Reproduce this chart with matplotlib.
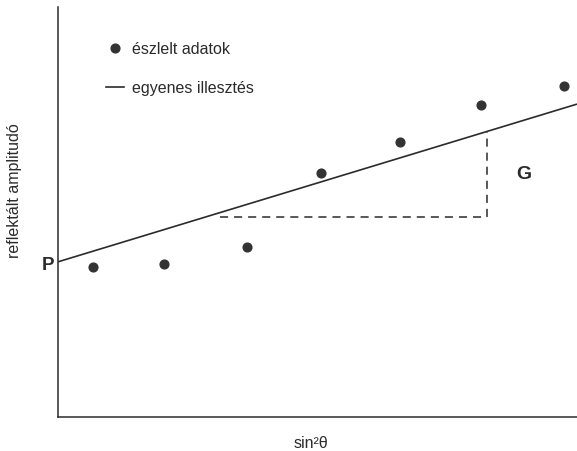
import matplotlib
matplotlib.use("Agg")
import matplotlib.pyplot as plt
from matplotlib.lines import Line2D

plt.rcParams['font.family'] = ['Liberation Sans', 'DejaVu Sans']

# observed data (sin^2 theta, reflected amplitude), arbitrary units
obs_x = [0.068, 0.204, 0.364, 0.507, 0.659, 0.815, 0.974]
obs_y = [0.365, 0.373, 0.414, 0.595, 0.671, 0.761, 0.807]

# straight-line fit endpoints
fit_x = [0.0, 1.0]
fit_y = [0.378, 0.763]

# gradient construction (dashed)
grad_x = [0.312, 0.826, 0.826]
grad_y = [0.487, 0.487, 0.696]

legend_labels = ["észlelt adatok", "egyenes illesztés"]
xlabel = "sin²θ"
ylabel = "reflektált amplitudó"

ink = "#2b2b2b"

fig = plt.figure(figsize=(5.77, 4.51), dpi=100)
ax = fig.add_axes([58/577, 34.3/451, 519/577, 409.7/451])
ax.set_xlim(0, 1)
ax.set_ylim(0, 1)

ax.plot(fit_x, fit_y, color=ink, lw=1.2, solid_capstyle='butt')
ax.plot(obs_x, obs_y, 'o', color="#333333", ms=6.3, mec="#333333")
dl, = ax.plot(grad_x, grad_y, color=ink, lw=1.1)
dl.set_dashes((5.3, 3.9))

ax.text(-0.008, 0.368, "P", ha='right', va='center', fontsize=13.5,
        fontweight='bold', color=ink)
ax.text(0.898, 0.59, "G", ha='center', va='center', fontsize=14,
        fontweight='bold', color=ink)

handles = [Line2D([], [], ls='none', marker='o', color="#333333", ms=6.3),
           Line2D([], [], color=ink, lw=1.2)]
ax.legend(handles, legend_labels, loc='upper left',
          bbox_to_anchor=(0.0917, 0.915), frameon=False, fontsize=11.5,
          handlelength=1.15, handletextpad=0.5, labelspacing=1.49,
          borderpad=0, borderaxespad=0, labelcolor=ink)

for s in ['top', 'right']:
    ax.spines[s].set_visible(False)
for s in ['left', 'bottom']:
    ax.spines[s].set_color(ink)
    ax.spines[s].set_linewidth(1.1)
ax.set_xticks([])
ax.set_yticks([])

ax.set_xlabel(xlabel, fontsize=11.5, color=ink)
ax.xaxis.set_label_coords(0.4875, -0.047)
ax.set_ylabel(ylabel, fontsize=11.5, color=ink)
ax.yaxis.set_label_coords(-0.070, 0.552)

fig.savefig("out.png", dpi=100)
